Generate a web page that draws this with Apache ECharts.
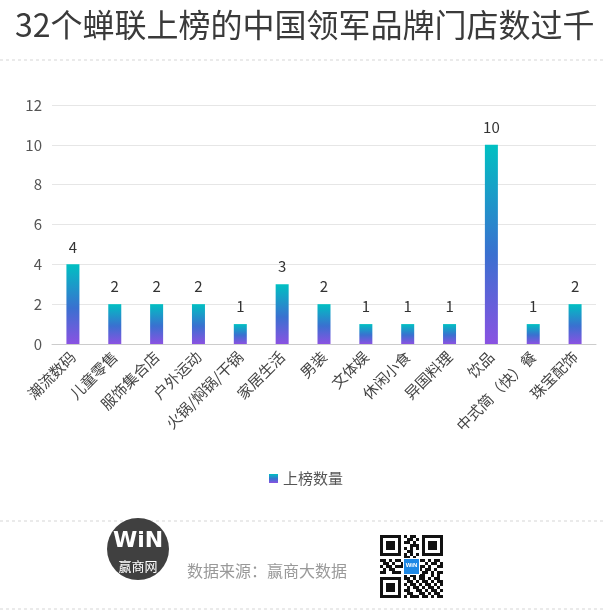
<!DOCTYPE html>
<html><head><meta charset="utf-8">
<script src="https://cdn.jsdelivr.net/npm/echarts@6/dist/echarts.min.js"></script>
<style>html,body{margin:0;padding:0;background:#fff}#c{width:612px;height:611px}</style>
</head><body><div id="c"></div>
<script>
const titleText = '32个蝉联上榜的中国领军品牌门店数过千';
const categories = ['潮流数码','儿童零售','服饰集合店','户外运动','火锅/焖锅/干锅','家居生活','男装','文体娱','休闲小食','异国料理','饮品','中式简（快）餐','珠宝配饰'];
const values = [4,2,2,2,1,3,2,1,1,1,10,1,2];
const seriesName = '上榜数量';
const yTicks = {min:0, max:12, interval:2};
const sourceText = '数据来源：赢商大数据';

const FONT = '"Noto Sans CJK SC","Microsoft YaHei",sans-serif';
const qrRows = [
"111111101011001111111",
"100000100110101000001",
"101110101101001011101",
"101110100011101011101",
"101110101010101011101",
"100000100110001000001",
"111111101010101111111",
"000000001101000000000",
"110101101011011010110",
"011010010110100101101",
"101101110100111010011",
"010110001011010110100",
"110011101100101101011",
"000000001011011001010",
"111111101101011010110",
"100000100110101101011",
"101110101011010110101",
"101110100101101011010",
"101110101100110101101",
"100000100110011010110",
"111111101011101101011"];
const qrX = 380, qrY = 535, mod = 3;
const qrEls = [];
qrRows.forEach((row, r) => {
  for (let c = 0; c < row.length; c++) {
    if (row[c] === '1') qrEls.push({type:'rect', shape:{x:qrX+c*mod, y:qrY+r*mod, width:mod, height:mod}, style:{fill:'#111'}});
  }
});
qrEls.push({type:'rect', shape:{x:qrX+23, y:qrY+23, width:17, height:17}, style:{fill:'#fff'}});
qrEls.push({type:'rect', shape:{x:qrX+24, y:qrY+24, width:15, height:15}, style:{fill:'#1e88e5'}});
qrEls.push({type:'text', style:{x:qrX+31.5, y:qrY+30, text:'WiN', fill:'#fff', font:'bold 6px sans-serif', align:'center', verticalAlign:'middle'}});

const grad = new echarts.graphic.LinearGradient(0,0,0,1,[
  {offset:0, color:'#00c0c2'},
  {offset:0.55, color:'#3a70d0'},
  {offset:1, color:'#8a52e2'}
]);

const chart = echarts.init(document.getElementById('c'));
chart.setOption({
  animation:false,
  backgroundColor:'#fff',
  title:{text:titleText, left:10, top:4, textStyle:{fontFamily:FONT, fontSize:32, fontWeight:'normal', color:'#3a3a3a'}},
  legend:{data:[seriesName], bottom:120, left:'center', itemWidth:9, itemHeight:9, icon:'rect', itemGap:6,
    textStyle:{fontFamily:FONT, fontSize:15, color:'#555'}},
  grid:{left:52, right:16, top:105, bottom:267},
  xAxis:{type:'category', data:categories,
    axisLine:{lineStyle:{color:'#ccc'}}, axisTick:{show:false},
    axisLabel:{interval:0, rotate:45, fontFamily:FONT, fontSize:15, color:'#444', margin:10}},
  yAxis:{type:'value', min:yTicks.min, max:yTicks.max, interval:yTicks.interval,
    axisLine:{show:false}, axisTick:{show:false},
    splitLine:{lineStyle:{color:'#e6e6e6'}},
    axisLabel:{fontFamily:FONT, fontSize:15, color:'#555', margin:10}},
  series:[{name:seriesName, type:'bar', data:values, barWidth:13,
    itemStyle:{color:grad},
    label:{show:true, position:'top', distance:10, fontFamily:FONT, fontSize:15, color:'#333'}}],
  graphic:[
    {type:'line', shape:{x1:0,y1:60,x2:606,y2:60}, style:{stroke:'#d6d6d6', lineDash:[3,3], lineWidth:1}},
    {type:'line', shape:{x1:0,y1:521,x2:606,y2:521}, style:{stroke:'#d6d6d6', lineDash:[3,3], lineWidth:1}},
    {type:'line', shape:{x1:0,y1:609,x2:606,y2:609}, style:{stroke:'#d6d6d6', lineDash:[3,3], lineWidth:1}},
    {type:'circle', shape:{cx:138, cy:549, r:31}, style:{fill:'#404040'}},
    {type:'text', style:{x:138, y:541, text:'WiN', fill:'#fff', font:'bold 22px "DejaVu Sans",sans-serif', align:'center', verticalAlign:'middle'}},
    {type:'text', style:{x:138, y:566, text:'赢商网', fill:'#fff', font:'13px '+FONT, align:'center', verticalAlign:'middle'}},
    {type:'text', style:{x:187, y:571, text:sourceText, fill:'#999', font:'16px '+FONT, align:'left', verticalAlign:'middle'}},
    {type:'group', children:qrEls}
  ]
});
</script></body></html>
